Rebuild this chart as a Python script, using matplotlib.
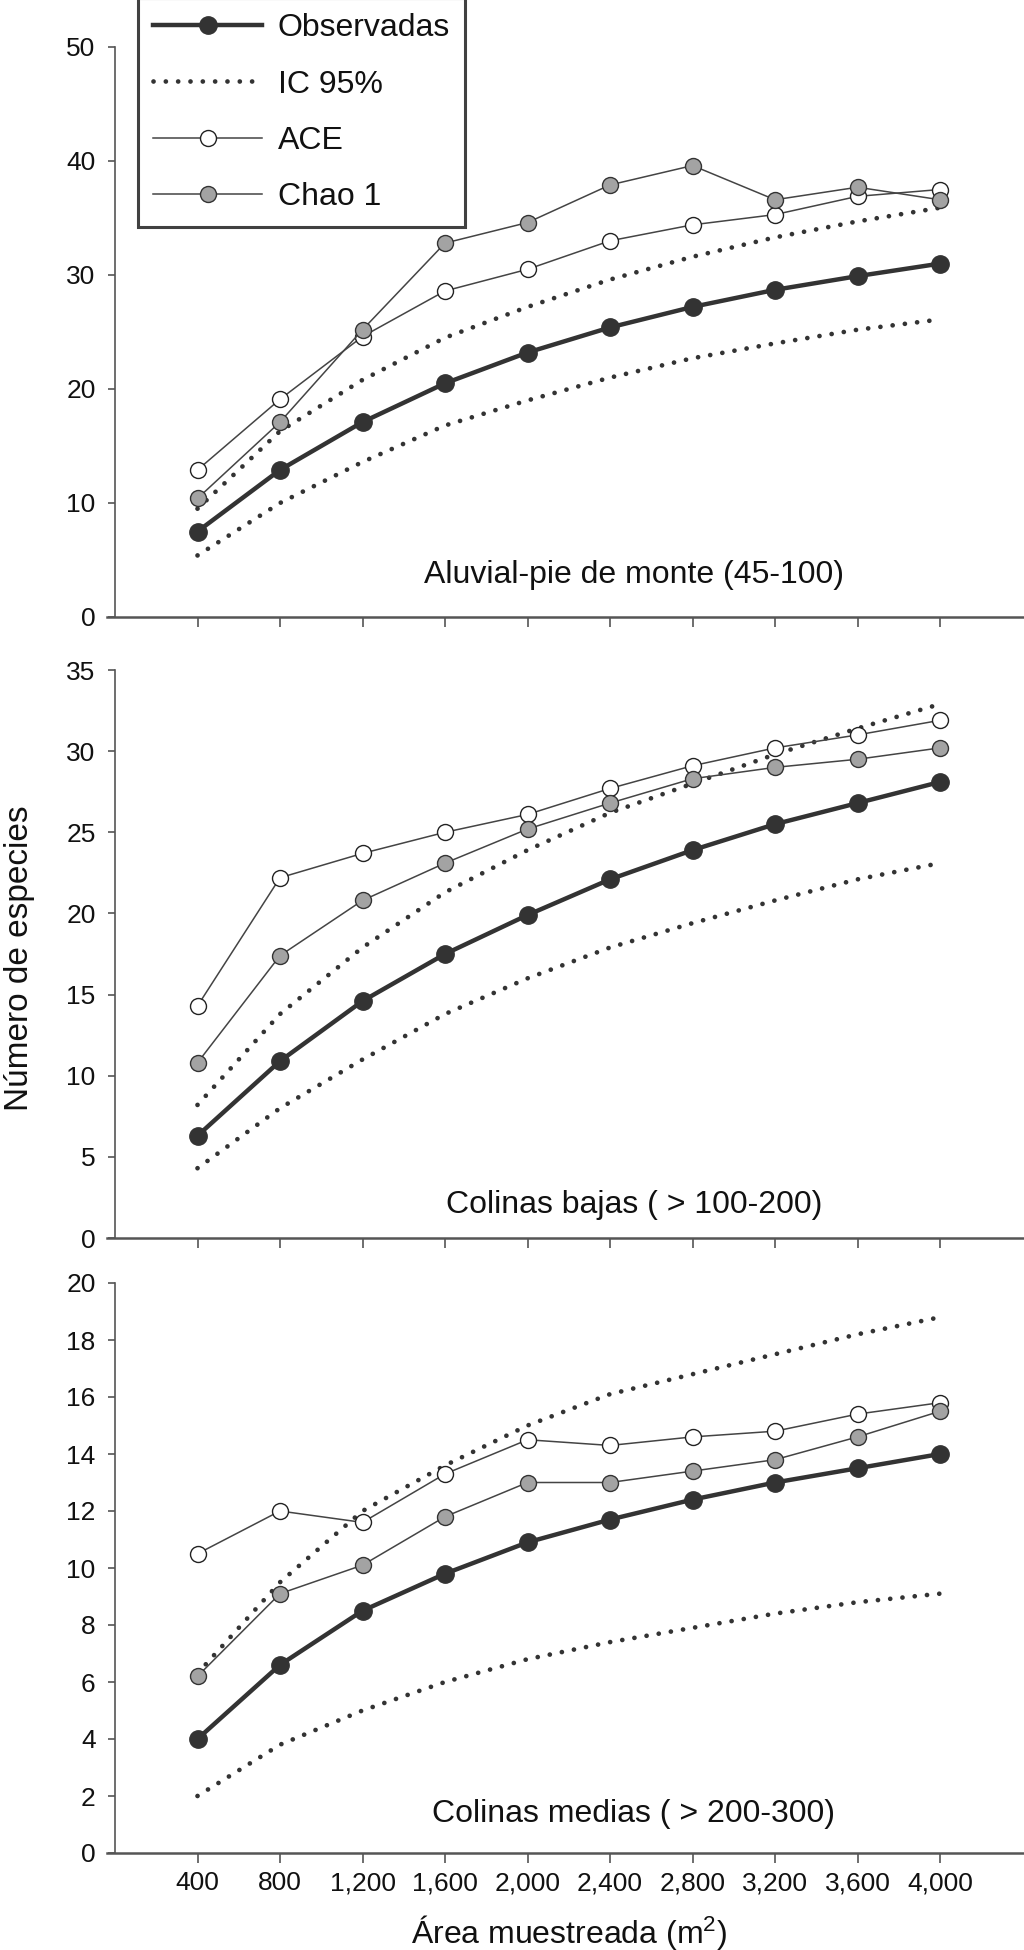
import matplotlib
matplotlib.use("Agg")
import matplotlib.pyplot as plt
from matplotlib.lines import Line2D

plt.rcParams['font.family'] = ['Liberation Sans', 'DejaVu Sans']
plt.rcParams['mathtext.fontset'] = 'custom'
plt.rcParams['mathtext.rm'] = 'Liberation Sans'
plt.rcParams['mathtext.it'] = 'Liberation Sans'

# ---------------- data ----------------
area = [400, 800, 1200, 1600, 2000, 2400, 2800, 3200, 3600, 4000]
x_ticklabels = ["400", "800", "1,200", "1,600", "2,000", "2,400", "2,800", "3,200", "3,600", "4,000"]

# Panel 1: Aluvial-pie de monte (45-100)
obs_1 = [7.5, 12.9, 17.1, 20.5, 23.2, 25.4, 27.2, 28.7, 29.9, 31.0]
ic_hi_1 = [9.5, 16.3, 20.8, 24.5, 27.2, 29.6, 31.6, 33.3, 34.7, 35.9]
ic_lo_1 = [5.4, 10.0, 13.6, 16.8, 19.0, 21.0, 22.7, 24.0, 25.2, 26.1]
ace_1 = [12.9, 19.1, 24.6, 28.6, 30.5, 33.0, 34.4, 35.3, 36.9, 37.5]
chao_1 = [10.4, 17.1, 25.2, 32.8, 34.6, 37.9, 39.6, 36.6, 37.7, 36.6]

# Panel 2: Colinas bajas (>100-200)
obs_2 = [6.3, 10.9, 14.6, 17.5, 19.9, 22.1, 23.9, 25.5, 26.8, 28.1]
ic_hi_2 = [8.2, 13.8, 17.9, 21.3, 23.9, 26.2, 28.0, 29.8, 31.4, 32.9]
ic_lo_2 = [4.3, 8.0, 11.0, 13.8, 16.0, 17.9, 19.4, 20.8, 22.1, 23.1]
ace_2 = [14.3, 22.2, 23.7, 25.0, 26.1, 27.7, 29.1, 30.2, 31.0, 31.9]
chao_2 = [10.8, 17.4, 20.8, 23.1, 25.2, 26.8, 28.3, 29.0, 29.5, 30.2]

# Panel 3: Colinas medias (>200-300)
obs_3 = [4.0, 6.6, 8.5, 9.8, 10.9, 11.7, 12.4, 13.0, 13.5, 14.0]
ic_hi_3 = [6.3, 9.5, 12.0, 13.6, 15.0, 16.1, 16.8, 17.5, 18.2, 18.8]
ic_lo_3 = [2.0, 3.8, 5.0, 6.0, 6.8, 7.4, 7.9, 8.4, 8.8, 9.1]
ace_3 = [10.5, 12.0, 11.6, 13.3, 14.5, 14.3, 14.6, 14.8, 15.4, 15.8]
chao_3 = [6.2, 9.1, 10.1, 11.8, 13.0, 13.0, 13.4, 13.8, 14.6, 15.5]

panel_titles = ["Aluvial-pie de monte (45-100)",
                "Colinas bajas ( > 100-200)",
                "Colinas medias ( > 200-300)"]
y_tops = [50, 35, 20]
y_steps = [10, 5, 2]

legend_labels = ["Observadas", "IC 95%", "ACE", "Chao 1"]

# ---------------- figure ----------------
W, H = 1024, 1950
fig = plt.figure(figsize=(W / 100, H / 100), dpi=100)

def fx(px):
    return px / W

def fy(py):
    return 1 - py / H

# axes in pixel layout: (y of zero line, y of top)
panel_px = [(617, 47), (1238, 670), (1853, 1283)]
left_px = 115

series = [
    (obs_1, ic_hi_1, ic_lo_1, ace_1, chao_1),
    (obs_2, ic_hi_2, ic_lo_2, ace_2, chao_2),
    (obs_3, ic_hi_3, ic_lo_3, ace_3, chao_3),
]

spine_col = '#555555'
dark = '#333333'
thin_col = '#444444'
chao_fill = '#a3a3a3'
dot_ls = (0, (0.01, 2.6))

axes = []
for i, ((y0, y1), (obs, hi, lo, ace, chao)) in enumerate(zip(panel_px, series)):
    ax = fig.add_axes([fx(left_px), fy(y0), 1 - fx(left_px), (y0 - y1) / H])
    axes.append(ax)
    ax.set_xlim(0, 4407)
    ax.set_ylim(0, y_tops[i])

    ax.plot(area, hi, linestyle=dot_ls, color=dark, lw=3.4,
            dash_capstyle='round', clip_on=False, zorder=2)
    ax.plot(area, lo, linestyle=dot_ls, color=dark, lw=3.4,
            dash_capstyle='round', clip_on=False, zorder=2)
    ax.plot(area, ace, '-o', color=thin_col, lw=1.1, ms=11.5, mfc='white',
            mec='#222222', mew=1.0, clip_on=False, zorder=3)
    ax.plot(area, chao, '-o', color=thin_col, lw=1.1, ms=11.5, mfc=chao_fill,
            mec='#333333', mew=1.0, clip_on=False, zorder=4)
    ax.plot(area, obs, '-o', color=dark, lw=3.2, ms=12.5, mfc=dark,
            mec=dark, mew=1.0, clip_on=False, zorder=5)

    for s in ['top', 'right']:
        ax.spines[s].set_visible(False)
    ax.spines['left'].set_color(spine_col)
    ax.spines['left'].set_linewidth(1.2)
    ax.spines['bottom'].set_color(spine_col)
    ax.spines['bottom'].set_linewidth(1.8)
    ax.spines['bottom'].set_bounds(-40, 4407)

    ax.set_xticks(area)
    if i == 2:
        ax.set_xticklabels(x_ticklabels)
    else:
        ax.set_xticklabels([])
    ax.set_yticks(range(0, y_tops[i] + 1, y_steps[i]))
    ax.tick_params(axis='x', direction='out', length=7, width=1.2,
                   color=spine_col, labelsize=19, pad=6, labelcolor='#111111')
    ax.tick_params(axis='y', direction='out', length=5, width=1.2,
                   color=spine_col, labelsize=19, pad=9, labelcolor='#111111')

# panel annotations (placed at baseline pixel positions)
title_baselines = [583, 1213, 1822]
for t, yb in zip(panel_titles, title_baselines):
    fig.text(fx(634), fy(yb), t, ha='center', va='baseline',
             fontsize=23, color='#111111')

# axis labels
fig.text(fx(20), fy(958), "Número de especies", rotation=90,
         ha='center', va='center', fontsize=24, color='#111111')
fig.text(fx(569), fy(1943), "Área muestreada (m$^2$)", ha='center',
         va='baseline', fontsize=23, color='#111111')

# legend
handles = [
    Line2D([], [], color=dark, lw=3.2, marker='o', ms=12.5, mfc=dark, mec=dark),
    Line2D([], [], color=dark, lw=3.4, linestyle=dot_ls, dash_capstyle='round'),
    Line2D([], [], color=thin_col, lw=1.1, marker='o', ms=11.5, mfc='white', mec='#222222'),
    Line2D([], [], color=thin_col, lw=1.1, marker='o', ms=11.5, mfc=chao_fill, mec='#333333'),
]
leg = fig.legend(handles, legend_labels, loc='upper left',
                 bbox_to_anchor=(fx(138), fy(-2)), bbox_transform=fig.transFigure,
                 fontsize=23, frameon=True, fancybox=False, numpoints=1,
                 handlelength=3.4, handletextpad=0.5, labelspacing=0.82,
                 borderpad=0.48, borderaxespad=0.0)
leg.get_frame().set_edgecolor('#111111')
leg.get_frame().set_linewidth(2.2)
for txt in leg.get_texts():
    txt.set_color('#111111')

fig.savefig("out.png", dpi=100)
